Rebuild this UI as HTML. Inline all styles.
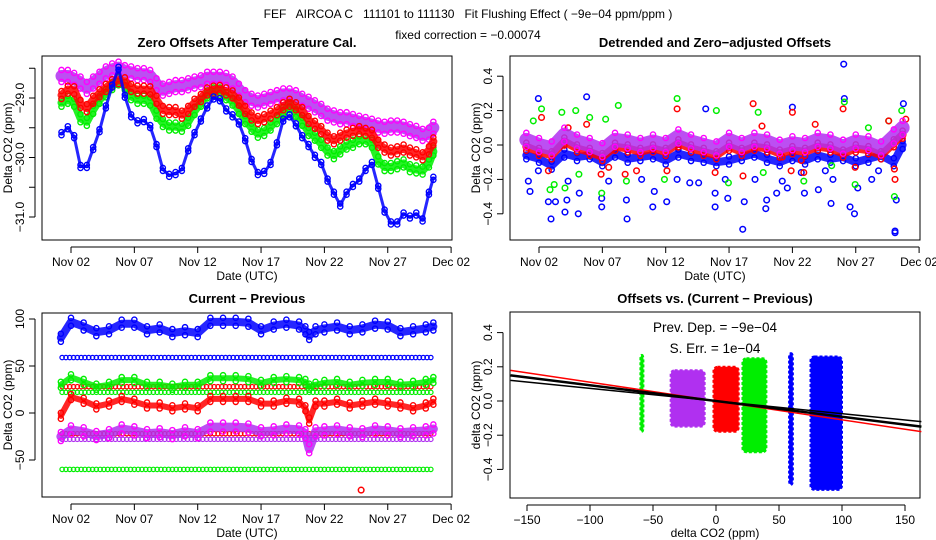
<!DOCTYPE html>
<html><head><meta charset="utf-8"><style>
body{margin:0;background:#fff;}
svg{display:block;font-family:"Liberation Sans",sans-serif;}
.t{font-size:12px;fill:#000}
.a{font-size:13.5px;fill:#000}
.b{font-size:13px;font-weight:bold;fill:#000}
</style></head><body>
<svg id="s" width="936" height="540" viewBox="0 0 936 540" xmlns="http://www.w3.org/2000/svg">
<text class="t" x="468" y="18" text-anchor="middle">FEF &#160; AIRCOA C &#160; 111101 to 111130 &#160; Fit Flushing Effect ( −9e−04 ppm/ppm )</text>
<text class="t" x="468" y="39" text-anchor="middle">fixed correction = −0.00074</text>
</svg>
<script>
// ---- data ----
const tlDays = [1.25,1.75,2.25,2.75,3.25,3.75,4.25,4.75,5.25,5.75,6.25,6.75,7.25,7.75,8.25,8.75,9.25,9.75,10.25,10.75,11.25,11.75,12.25,12.75,13.25,13.75,14.25,14.75,15.25,15.75,16.25,16.75,17.25,17.75,18.25,18.75,19.25,19.75,20.25,20.75,21.25,21.75,22.25,22.75,23.25,23.75,24.25,24.75,25.25,25.75,26.25,26.75,27.25,27.75,28.25,28.75,29.25,29.75,30.25,30.6];
const tlBlue = [-29.6,-29.5,-29.65,-30.15,-30.15,-29.85,-29.55,-29.15,-28.8,-28.5,-28.97,-29.3,-29.4,-29.38,-29.48,-29.8,-30.2,-30.3,-30.27,-30.2,-29.87,-29.6,-29.37,-29.15,-29.0,-29.03,-29.2,-29.3,-29.42,-29.7,-30.05,-30.27,-30.25,-30.1,-29.77,-29.37,-29.3,-29.45,-29.65,-29.8,-29.98,-30.1,-30.38,-30.6,-30.8,-30.6,-30.47,-30.38,-30.2,-30.1,-30.5,-30.9,-31.1,-31.1,-30.95,-31.0,-30.95,-31.05,-30.6,-30.35];
const tlRed = [-28.95,-28.86,-28.87,-29.1,-29.17,-29.03,-28.92,-28.83,-28.75,-28.7,-28.72,-28.83,-28.86,-28.86,-28.87,-29.03,-29.2,-29.22,-29.22,-29.28,-29.2,-29.08,-29.0,-28.89,-28.86,-28.85,-28.89,-28.94,-29.06,-29.2,-29.31,-29.37,-29.34,-29.28,-29.22,-29.14,-29.08,-29.14,-29.22,-29.37,-29.45,-29.54,-29.65,-29.71,-29.65,-29.6,-29.57,-29.54,-29.57,-29.6,-29.77,-29.85,-29.9,-29.88,-29.85,-29.9,-29.93,-29.98,-29.88,-29.73];
const tlGreen = [-29.08,-29.03,-29.08,-29.34,-29.4,-29.2,-29.03,-28.92,-28.8,-28.72,-28.8,-28.97,-29.03,-29.03,-29.06,-29.28,-29.42,-29.48,-29.48,-29.5,-29.4,-29.22,-29.08,-28.94,-28.89,-28.89,-28.97,-29.06,-29.2,-29.37,-29.5,-29.6,-29.57,-29.48,-29.37,-29.22,-29.14,-29.25,-29.4,-29.57,-29.65,-29.77,-29.9,-29.96,-29.88,-29.8,-29.77,-29.71,-29.71,-29.77,-30.05,-30.16,-30.16,-30.13,-30.1,-30.18,-30.2,-30.22,-30.1,-29.9];
const tlPurple = [-28.63,-28.63,-28.68,-28.74,-28.83,-28.74,-28.66,-28.57,-28.52,-28.49,-28.55,-28.57,-28.6,-28.6,-28.63,-28.77,-28.86,-28.83,-28.8,-28.8,-28.77,-28.74,-28.72,-28.66,-28.66,-28.66,-28.68,-28.74,-28.86,-28.97,-29.03,-29.06,-29.03,-29.0,-28.97,-28.94,-28.94,-28.97,-29.03,-29.08,-29.14,-29.2,-29.28,-29.31,-29.34,-29.34,-29.37,-29.4,-29.42,-29.45,-29.48,-29.5,-29.48,-29.48,-29.5,-29.54,-29.57,-29.62,-29.6,-29.5];

const dateTicks = ["Nov 02","Nov 07","Nov 12","Nov 17","Nov 22","Nov 27","Dec 02"];
const dateTickDays = [2,7,12,17,22,27,32];
const tlYTicks = [-28.5,-29.0,-29.5,-30.0,-30.5,-31.0];
const tlYLabels = ["","-29.0","","-30.0","","-31.0"];

// detrended
const detDays = [1,2,3,4,5,6,7,8,9,10,11,12,13,14,15,16,17,18,19,20,21,22,23,24,25,26,27,28,29,30,30.7];
const detPurple = [0.03,0.0,-0.02,0.06,0.02,0.0,-0.03,0.03,0.02,0.0,0.02,0.0,0.05,0.02,0.0,-0.02,0.03,0.0,0.03,0.02,-0.01,0.01,0.0,0.03,0.02,-0.01,0.02,0.01,-0.02,0.05,0.1];
const detBlueBand = [-0.06,-0.08,-0.12,-0.05,-0.07,-0.06,-0.1,-0.05,-0.08,-0.07,-0.06,-0.09,-0.05,-0.07,-0.08,-0.1,-0.09,-0.07,-0.05,-0.08,-0.1,-0.07,-0.09,-0.06,-0.08,-0.07,-0.1,-0.08,-0.06,-0.1,0.0];
const detBlueDays = [1.95,1.16,1.29,2.95,2.74,3.3,4.05,4.2,5.1,5.18,5.76,6.95,6.95,8.95,8.9,10.98,11.1,12.08,13.9,14.6,15.16,15.9,15.9,16.9,18.08,18.2,19.9,19.97,20.76,21.6,22.0,22.95,24.05,25.05,26.05,26.1,26.55,26.9,27.16,28.26,30.1,30.1,30.2,30.76,24.6,25.2,21.2,19.05,16.7,12.9,10.1,7.5,4.3,1.95,28.8,22.7];
const detBlueVals = [0.27,-0.21,-0.27,-0.43,-0.33,-0.33,-0.39,-0.32,-0.4,-0.28,0.28,-0.31,-0.36,-0.43,-0.32,-0.36,-0.27,-0.33,-0.22,-0.22,0.21,-0.36,-0.28,-0.31,-0.49,-0.33,-0.37,-0.32,-0.28,-0.25,0.22,-0.28,-0.26,-0.34,0.47,0.27,-0.36,-0.4,-0.25,-0.2,-0.5,-0.51,-0.32,0.24,-0.15,-0.2,-0.21,-0.2,-0.2,-0.2,-0.2,-0.21,-0.21,-0.15,-0.15,-0.16];
const detGreenDays = [2.2,1.55,3.2,2.87,3.8,4.05,4.9,6.0,7.26,6.95,8.26,8.9,12.9,16.0,16.95,19.3,19.7,22.9,26.1,26.95,28.0,29.6,30.05,30.63,11.9,25.1,5.15];
const detGreenVals = [0.21,0.14,-0.23,-0.26,0.19,-0.25,0.2,0.16,0.15,-0.28,0.23,-0.21,0.27,0.2,-0.22,0.19,-0.16,-0.21,0.25,-0.23,0.1,0.14,-0.3,0.2,-0.2,-0.12,-0.17];
const detRedDays = [2.2,2.74,4.3,5.76,6.9,7.5,8.8,9.7,12.9,12.1,15.9,18.1,18.9,19.6,21.9,22.0,22.9,23.8,26.0,26.95,29.6,30.05,30.1,30.95,22.7,21.2];
const detRedVals = [0.16,-0.15,0.1,0.12,-0.17,-0.13,-0.17,-0.15,0.21,-0.15,-0.16,-0.18,0.24,0.11,-0.15,0.19,-0.16,0.12,0.21,-0.13,0.14,-0.14,-0.2,0.15,-0.09,-0.07];
const detYTicks = [0.4,0.2,0.0,-0.2,-0.4];
const detYLabels = ["0.4","0.2","0.0","-0.2","-0.4"];

// current - previous
const cpDays = [1.2,2,3,4,5,6,7,8,9,10,11,12,13,14,15,16,17,18,19,20,20.5,20.8,21.3,22,23,24,25,26,27,28,29,30,30.6];
const cpBlue = [80,97,92,86,88,95,95,88,90,85,87,85,97,97,97,96,88,93,95,93,88,82,88,90,92,88,90,94,93,86,88,90,92];
const cpGreen = [30,38,33,28,30,35,35,30,30,28,30,30,37,37,37,36,32,35,36,35,33,28,30,32,33,30,32,33,33,30,31,33,35];
const cpRed = [-3,17,13,7,10,15,12,8,8,5,7,5,15,15,15,15,10,10,13,12,5,-8,10,10,12,8,10,12,10,8,5,8,12];
const cpPurple = [-25,-18,-20,-24,-22,-17,-19,-22,-21,-23,-20,-22,-15,-15,-15,-16,-20,-19,-17,-18,-22,-38,-20,-19,-18,-20,-21,-18,-19,-21,-20,-19,-17];
const cpLevelVals = [59,28,22,-22,-28,-60];
const cpLevelColors = ["#0000ff","#ff0000","#00ee00","#ff0000","#b030f0","#00ee00"];
const cpOutlierDays = [24.9];
const cpOutlierVals = [-82];
const cpYTicks = [100,50,0,-50];
const cpYLabels = ["100","50","0","-50"];

// offsets vs current-previous (clusters)
const clXmin = [-60,-36,-2,27,21,58,75];
const clXmax = [-58,-9,18,30,40,61,100];
const clYmin = [-0.18,-0.15,-0.18,-0.2,-0.3,-0.49,-0.52];
const clYmax = [0.27,0.18,0.2,0.13,0.25,0.28,0.26];
const clColors = ["#00ee00","#b030f0","#ff0000","#ff0000","#00ee00","#0000ff","#0000ff"];
const fitSlopes = [-0.0011,-0.00092,-0.00092,-0.00074];
const fitColors = ["#ff0000","#00ee00","#000000","#000000"];
const brXTicks = [-150,-100,-50,0,50,100,150];
const brYTicks = [0.4,0.2,0.0,-0.2,-0.4];

// ---- drawing ----
const svg = document.getElementById('s');
const NS = 'http://www.w3.org/2000/svg';
function mk(tag, attrs, parent){const e=document.createElementNS(NS,tag);for(const k in attrs)e.setAttribute(k,attrs[k]);(parent||svg).appendChild(e);return e;}

const xDayL = d => 71 + (d-2)*12.67;
const xDayR = d => 539 + (d-2)*12.67;
const yTL = v => 98 + (-29 - v)*59.5;
const yTR = v => 145 - v*172;
const yBL = v => 413 - v*0.94;
const xBR = v => 716 + v*1.26;
const yBR = v => 401 - v*171;

function frame(x0,y0,x1,y1,name){
  const r=mk('rect',{x:x0,y:y0,width:x1-x0,height:y1-y0,fill:'none',stroke:'#000','stroke-width':1});
  
  
}
function title(x,y,txt,name){const t=mk('text',{x:x,y:y,'text-anchor':'middle',class:'b'});t.textContent=txt;
  
  }
function label(x,y,txt,name,rot,cls){const t=mk('text',{x:x,y:y,'text-anchor':'middle',class:cls||'t'});t.textContent=txt;if(rot)t.setAttribute('transform','rotate(-90 '+x+' '+y+')');
  
  }
function xAxis(fx,days,labels,yb){
  mk('line',{x1:fx(days[0]),x2:fx(days[days.length-1]),y1:yb+7,y2:yb+7,stroke:'#000'});
  days.forEach((d,i)=>{const x=fx(d);mk('line',{x1:x,x2:x,y1:yb+7,y2:yb+13,stroke:'#000'});
    const t=mk('text',{x:x,y:yb+26,'text-anchor':'middle',class:'t'});t.textContent=labels[i];
    
    });
}
function yAxis(fy,vals,labels,xl){
  mk('line',{x1:xl-7,x2:xl-7,y1:fy(vals[0]),y2:fy(vals[vals.length-1]),stroke:'#000'});
  vals.forEach((v,i)=>{const y=fy(v);mk('line',{x1:xl-13,x2:xl-7,y1:y,y2:y,stroke:'#000'});
    if(labels[i]){const t=mk('text',{x:xl-18,y:y,'text-anchor':'middle',class:'t',transform:'rotate(-90 '+(xl-18)+' '+y+')'});t.textContent=labels[i].replace('-','−');
    
    }});
}
function band(xs,ys,fx,fy,color,w,name,ring){
  const g=mk('g',{});
  
  
  const pts=xs.map((d,i)=>fx(d)+','+fy(ys[i])).join(' ');
  mk('polyline',{points:pts,fill:'none',stroke:color,'stroke-width':w,'stroke-linejoin':'round','stroke-linecap':'round',opacity:0.85},g);
  xs.forEach((d,i)=>{[-w/2,w/2].forEach(o=>{
    mk('circle',{cx:fx(d),cy:fy(ys[i])+o,r:2.6,fill:'none',stroke:ring||color,'stroke-width':1.4},g);});});
  return g;
}
function pts(xs,ys,fx,fy,color,name){
  const g=mk('g',{});
  
  
  xs.forEach((d,i)=>mk('circle',{cx:fx(d),cy:fy(ys[i]),r:2.8,fill:'none',stroke:color,'stroke-width':1.5},g));
}

// Panel TL
frame(42,56,452,240,'offsets-plot-area');
title(247,47,'Zero Offsets After Temperature Cal.','offsets-title');
xAxis(xDayL,dateTickDays,dateTicks,240);
yAxis(yTL,tlYTicks,tlYLabels,42);
label(247,280,'Date (UTC)','offsets-x-axis-title');
label(12,148,'Delta CO2 (ppm)','offsets-y-axis-title',true);
band(tlDays,tlPurple,xDayL,yTL,'#b030f0',12,'series-purple','#ff00ff');
band(tlDays,tlGreen,xDayL,yTL,'#00ee00',8,'series-green');
band(tlDays,tlRed,xDayL,yTL,'#ff0000',8,'series-red');
band(tlDays,tlBlue,xDayL,yTL,'#0000ff',3,'series-blue');

// Panel TR
frame(510,56,920,240,'detrended-plot-area');
title(715,47,'Detrended and Zero\u2212adjusted Offsets','detrended-title');
xAxis(xDayR,dateTickDays,dateTicks,240);
yAxis(yTR,detYTicks,detYLabels,510);
label(715,280,'Date (UTC)','detrended-x-axis-title');
label(480,148,'Delta CO2 (ppm)','detrended-y-axis-title',true);
band(detDays,detBlueBand,xDayR,yTR,'#0000ff',8,'detrended-blue-band');
pts(detBlueDays,detBlueVals,xDayR,yTR,'#0000ff','detrended-blue-points');
pts(detGreenDays,detGreenVals,xDayR,yTR,'#00ee00','detrended-green-points');
pts(detRedDays,detRedVals,xDayR,yTR,'#ff0000','detrended-red-points');
band(detDays,detPurple.map(v=>v-0.04),xDayR,yTR,'#ff0000',8,'detrended-red-band');
band(detDays,detPurple,xDayR,yTR,'#b030f0',14,'detrended-purple-band','#ff00ff');

// Panel BL
frame(42,313,452,497,'current-previous-plot-area');
title(247,303,'Current \u2212 Previous','current-previous-title');
xAxis(xDayL,dateTickDays,dateTicks,497);
yAxis(yBL,cpYTicks,cpYLabels,42);
label(247,537,'Date (UTC)','current-previous-x-axis-title');
label(12,405,'Delta CO2 (ppm)','current-previous-y-axis-title',true);
cpLevelVals.forEach((v,i)=>{
  const g=mk('g',{});
  
  
  for(let d=1.3; d<=30.6; d+=0.3){mk('circle',{cx:xDayL(d),cy:yBL(v),r:2.2,fill:'none',stroke:cpLevelColors[i],'stroke-width':1.2},g);}
});
band(cpDays,cpPurple,xDayL,yBL,'#b030f0',9,'cp-purple','#ff00ff');
band(cpDays,cpGreen,xDayL,yBL,'#00ee00',6,'cp-green');
band(cpDays,cpRed,xDayL,yBL,'#ff0000',6,'cp-red');
band(cpDays,cpBlue,xDayL,yBL,'#0000ff',8,'cp-blue');
pts(cpOutlierDays,cpOutlierVals,xDayL,yBL,'#ff0000','cp-red-outlier');

// Panel BR
frame(510,312,920,498,'scatter-plot-area');
title(715,303,'Offsets vs. (Current \u2212 Previous)','scatter-title');
xAxis(xBR,brXTicks,brXTicks.map(v=>String(v).replace('-','−')),498);
yAxis(yBR,brYTicks,brYTicks.map(v=>v.toFixed(1)),510);
label(715,537,'delta CO2 (ppm)','scatter-x-axis-title');
label(480,405,'delta CO2 (ppm)','scatter-y-axis-title',true);
clXmin.forEach((x,i)=>{
  const r=mk('rect',{x:xBR(x),y:yBR(clYmax[i]),width:Math.max(3,xBR(clXmax[i])-xBR(x)),height:yBR(clYmin[i])-yBR(clYmax[i]),rx:4,fill:clColors[i],stroke:clColors[i],'stroke-width':2,'stroke-dasharray':'3 2'});
  
  
});
fitSlopes.forEach((s,i)=>{
  const l=mk('line',{x1:xBR(-163),y1:yBR(-163*s),x2:xBR(163),y2:yBR(163*s),stroke:fitColors[i],'stroke-width':i==2?2.5:1.5});
  
  
});
label(715,332,'Prev. Dep. =  \u22129e\u221204','prev-dep-annotation',false,'a');
label(715,353,'S. Err. =  1e\u221204','std-err-annotation',false,'a');
</script>
</body></html>
